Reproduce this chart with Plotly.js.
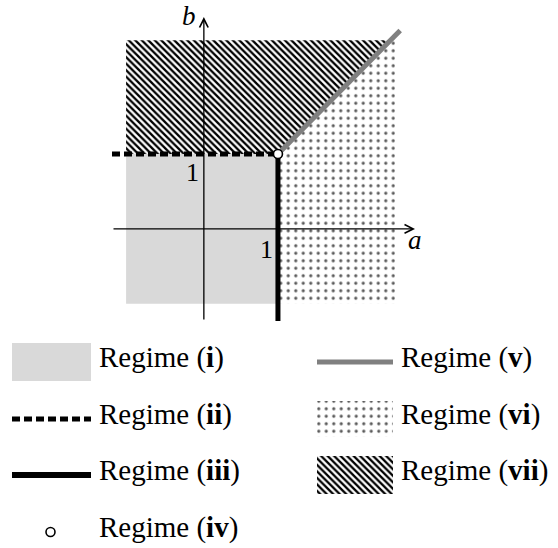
<!DOCTYPE html>
<html><head><meta charset="utf-8">
<script src="https://cdn.plot.ly/plotly-3.0.1.min.js"></script>
<style>html,body{margin:0;padding:0;background:#fff;}#chart{width:558px;height:548px;}</style>
</head><body><div id="chart"></div>
<script>
// ---- Chart data: regime boundaries in the (a, b) plane ----
const regimeI_a   = [-1.05, 1, 1, -1.05, -1.05];
const regimeI_b   = [-1.0, -1.0, 1, 1, -1.0];
const regimeII_a  = [-1.24, 1];
const regimeII_b  = [1, 1];
const regimeIII_a = [1, 1];
const regimeIII_b = [-1.23, 1];
const regimeIV_a  = [1];
const regimeIV_b  = [1];
const regimeV_a   = [1, 2.65];
const regimeV_b   = [1, 2.65];
const regimeVI_a  = [1, 2.58, 2.58, 1, 1];
const regimeVI_b  = [-1.0, -1.0, 2.58, 1, -1.0];
const regimeVII_a = [-1.05, 1, 2.52, -1.05, -1.05];
const regimeVII_b = [1, 1, 2.52, 2.52, 1];
const axisA = [-1.24, 2.85];
const axisB = [-1.23, 2.83];
const tickValues = [1];
const tickLabels = ['1'];
const axisNames = ['a', 'b'];
const regimeNames = ['Regime (<b>i</b>)', 'Regime (<b>ii</b>)', 'Regime (<b>iii</b>)', 'Regime (<b>iv</b>)',
                     'Regime (<b>v</b>)', 'Regime (<b>vi</b>)', 'Regime (<b>vii</b>)'];

// ---- Styles ----
const SERIF = 'Liberation Serif';
const GRAY_FILL = '#d9d9d9';
const GRAY_LINE = '#808080';
const dotPattern = {shape: '.', size: 7.5, solidity: 0.14, fgcolor: '#5a5a5a', bgcolor: 'rgba(255,255,255,0)'};
const hatchPattern = {shape: '\\', size: 4.6, solidity: 0.5, fgcolor: '#000000', bgcolor: '#ffffff'};

const traces = [];
function add(t, ax) {
  if (ax) { t.xaxis = 'x2'; t.yaxis = 'y2'; }
  t.showlegend = false; t.hoverinfo = 'skip'; t.cliponaxis = false;
  traces.push(t);
}

// Main plane
add({x: regimeI_a, y: regimeI_b, mode: 'lines', fill: 'toself', fillcolor: GRAY_FILL, line: {width: 0}});
add({x: regimeVI_a, y: regimeVI_b, mode: 'lines', fill: 'toself', fillcolor: 'rgba(0,0,0,0)', fillpattern: dotPattern, line: {width: 0}});
add({x: regimeVII_a, y: regimeVII_b, mode: 'lines', fill: 'toself', fillcolor: '#ffffff', fillpattern: hatchPattern, line: {width: 0}});
add({x: regimeII_a, y: regimeII_b, mode: 'lines', line: {color: '#000', width: 5, dash: '8px,4px'}});
add({x: regimeIII_a, y: regimeIII_b, mode: 'lines', line: {color: '#000', width: 5}});
add({x: regimeV_a, y: regimeV_b, mode: 'lines', line: {color: GRAY_LINE, width: 5}});
add({x: regimeIV_a, y: regimeIV_b, mode: 'markers', marker: {size: 9, color: '#fff', line: {color: '#000', width: 1.6}}});

// ---- Legend (drawn in a pixel-unit helper subplot) ----
const legRowY = [362, 419, 475, 532];
const legColX = [[12, 91], [317, 393]];
const legTextX = [97, 399];
const box = (c, y, h) => ({x: [legColX[c][0], legColX[c][1], legColX[c][1], legColX[c][0], legColX[c][0]],
                           y: [y - h, y - h, y + h, y + h, y - h]});
const seg = (c, y) => ({x: [legColX[c][0], legColX[c][1]], y: [y, y]});

let b1 = box(0, legRowY[0], 19);
add({x: b1.x, y: b1.y, mode: 'lines', fill: 'toself', fillcolor: GRAY_FILL, line: {width: 0}}, true);
let s2 = seg(0, legRowY[1]);
add({x: s2.x, y: s2.y, mode: 'lines', line: {color: '#000', width: 5, dash: '8px,4px'}}, true);
let s3 = seg(0, legRowY[2]);
add({x: s3.x, y: s3.y, mode: 'lines', line: {color: '#000', width: 6}}, true);
add({x: [(legColX[0][0] + legColX[0][1]) / 2 - 1], y: [legRowY[3]], mode: 'markers',
     marker: {size: 9, color: '#fff', line: {color: '#000', width: 1.6}}}, true);
let s5 = seg(1, legRowY[0]);
add({x: s5.x, y: s5.y, mode: 'lines', line: {color: GRAY_LINE, width: 5}}, true);
let b6 = box(1, legRowY[1], 18);
add({x: b6.x, y: b6.y, mode: 'lines', fill: 'toself', fillcolor: 'rgba(0,0,0,0)', fillpattern: dotPattern, line: {width: 0}}, true);
let b7 = box(1, legRowY[2], 19);
add({x: b7.x, y: b7.y, mode: 'lines', fill: 'toself', fillcolor: '#ffffff', fillpattern: hatchPattern, line: {width: 0}}, true);

const annotations = [];
const legPos = [[0,0],[0,1],[0,2],[0,3],[1,0],[1,1],[1,2]];
regimeNames.forEach((name, i) => {
  const [c, r] = legPos[i];
  annotations.push({xref: 'x2', yref: 'y2', x: legTextX[c], y: legRowY[r] - 5, text: name,
    showarrow: false, xanchor: 'left', yanchor: 'middle', font: {family: SERIF, size: 29, color: '#000'}});
});

// Axes with arrows
const arrow = {showarrow: true, text: '', arrowhead: 5, arrowsize: 1.3, arrowwidth: 1.3, arrowcolor: '#000',
               axref: 'x', ayref: 'y', xref: 'x', yref: 'y', standoff: 0, startstandoff: 0};
annotations.push(Object.assign({}, arrow, {x: axisA[1], y: 0, ax: axisA[0], ay: 0}));
annotations.push(Object.assign({}, arrow, {x: 0, y: axisB[1], ax: 0, ay: axisB[0]}));
// Axis names (anchored inside the range, nudged in pixels)
annotations.push({xref: 'x', yref: 'y', x: axisA[1], y: -0.15, text: '<i>' + axisNames[0] + '</i>', showarrow: false,
  xanchor: 'center', yanchor: 'middle', font: {family: SERIF, size: 27, color: '#000'}});
annotations.push({xref: 'x', yref: 'y', x: -0.2, y: axisB[1], yshift: 1, text: '<i>' + axisNames[1] + '</i>', showarrow: false,
  xanchor: 'center', yanchor: 'middle', font: {family: SERIF, size: 27, color: '#000'}});
// Tick labels
tickValues.forEach((v, i) => {
  annotations.push({xref: 'x', yref: 'y', x: v - 0.15, y: -0.27, text: tickLabels[i], showarrow: false,
    xanchor: 'center', yanchor: 'middle', font: {family: SERIF, size: 26, color: '#000'}});
  annotations.push({xref: 'x', yref: 'y', x: -0.16, y: v - 0.24, text: tickLabels[i], showarrow: false,
    xanchor: 'center', yanchor: 'middle', font: {family: SERIF, size: 26, color: '#000'}});
});

const W = 558, H = 548;
const layout = {
  width: W, height: H, margin: {l: 0, r: 0, t: 0, b: 0},
  paper_bgcolor: '#fff', plot_bgcolor: 'rgba(0,0,0,0)',
  font: {family: SERIF, color: '#000'},
  showlegend: false,
  xaxis: {domain: [112 / W, 415 / W], range: axisA, visible: false, fixedrange: true},
  yaxis: {domain: [1 - 321 / H, 1 - 17 / H], range: axisB, visible: false, fixedrange: true},
  xaxis2: {domain: [0, 1], range: [0, W], visible: false, anchor: 'y2', fixedrange: true},
  yaxis2: {domain: [0, (H - 330) / H], range: [H, 330], visible: false, anchor: 'x2', fixedrange: true},
  annotations: annotations
};
Plotly.newPlot('chart', traces, layout, {staticPlot: true, displayModeBar: false});
</script></body></html>
